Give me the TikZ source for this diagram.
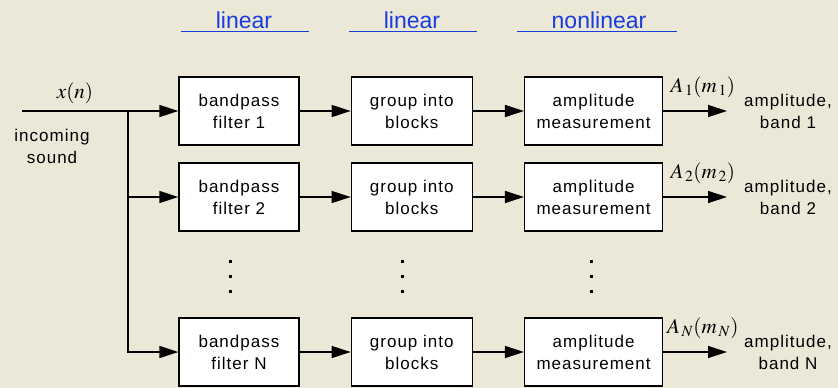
\documentclass[tikz,border=0pt]{standalone}
\usepackage[no-math]{fontspec}
\usepackage{mathptmx}
\setmainfont{Liberation Sans}
\newfontfamily\boxfont[LetterSpace=6]{Liberation Sans}
\usetikzlibrary{arrows.meta, positioning}
\definecolor{paper}{RGB}{236,232,216}
\definecolor{headblue}{RGB}{25,60,220}
\tikzset{larrow/.style = {-{Triangle[length=19pt,width=12pt]}, line width=1.3pt}}
\tikzset{blockbox/.style = {draw, fill=white, line width=1.3pt, minimum height=68pt,
    inner sep=0pt, align=center, font=\boxfont\fontsize{17}{22}\selectfont}}
\tikzset{plaintext/.style = {align=center, inner sep=0pt, font=\boxfont\fontsize{17}{22}\selectfont}}
\tikzset{mathlabel/.style = {inner sep=0pt, font=\fontsize{21}{24}\selectfont}}
\tikzset{headtext/.style = {text=headblue, inner sep=0pt, anchor=base, font=\fontsize{23}{26}\selectfont}}

\begin{document}
\begin{tikzpicture}[x=1pt, y=-1pt]
    \useasboundingbox[fill=paper] (0,0) rectangle (838,388);

    % the three bands
    \foreach \Row/\Y in {1/111, 2/197, N/352} {
        \node[blockbox, minimum width=120pt] (bp\Row) at (239,\Y) {bandpass\\filter \Row};
        \node[blockbox, minimum width=121pt] (gb\Row) [right=51pt of bp\Row] {group into\\blocks};
        \node[blockbox, minimum width=138pt] (am\Row) [right=51pt of gb\Row] {amplitude\\measurement};
        \coordinate (out\Row) at (727,\Y);
        \node[plaintext] (res\Row) at (788,\Y) {amplitude,\\band \Row};
        \draw[larrow] (bp\Row) -- (gb\Row);
        \draw[larrow] (gb\Row) -- (am\Row);
        \draw[larrow] (am\Row) -- node[mathlabel, pos=0.62, above=13pt] {$A_{\,\Row}(m_{\,\Row})$} (out\Row);
    }

    % input and split
    \coordinate (in) at (22,111);
    \coordinate (split) at (128,111);
    \node[plaintext] (sound) at (52,146) {incoming\\sound};
    \draw[line width=1.3pt] (in) -- node[mathlabel, above=7pt] {$x(n)$} (split);
    \draw[larrow] (split) -- (bp1);
    \draw[larrow] (split) |- (bp2);
    \draw[larrow] (split) |- (bpN);

    % dots between band 2 and band N
    \foreach \X in {230, 402, 591}
        \foreach \D in {261, 276, 291}
            \fill (\X-1.5,\D-1.5) rectangle (\X+1.5,\D+1.5);

    % headings
    \node[headtext] (lin1) at (244,28) {linear};
    \node[headtext] (lin2) at (412,28) {linear};
    \node[headtext] (nlin) at (599,28) {nonlinear};
    \draw[headblue, line width=1pt] (181,31) -- (309,31);
    \draw[headblue, line width=1pt] (349,31) -- (477,31);
    \draw[headblue, line width=1pt] (517,31) -- (677,31);
\end{tikzpicture}
\end{document}
